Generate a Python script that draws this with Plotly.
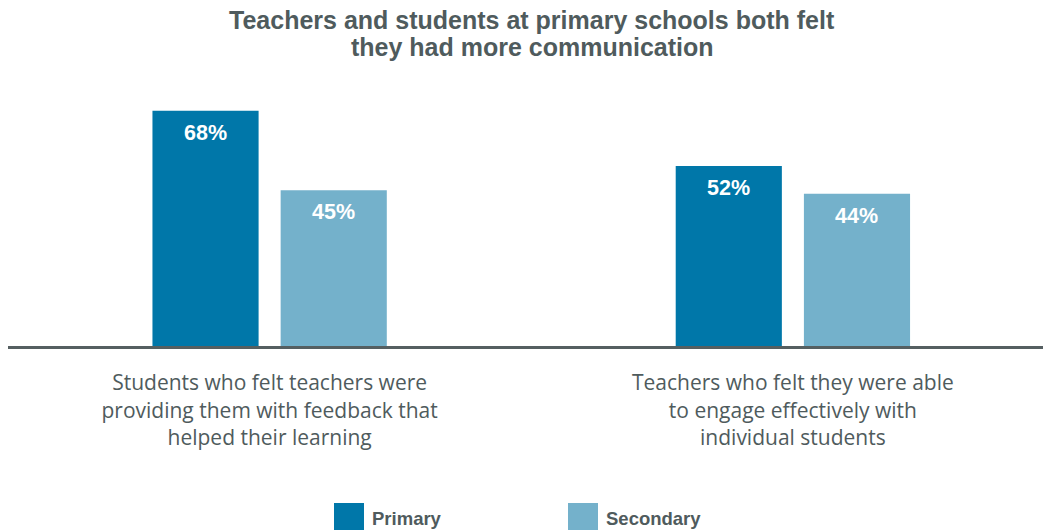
import plotly.graph_objects as go

categories = [
    "Students who felt teachers were<br>providing them with feedback that<br>helped their learning",
    "Teachers who felt they were able<br>to engage effectively with<br>individual students",
]
series_names = ["Primary", "Secondary"]
primary_values = [68, 52]
secondary_values = [45, 44]
title_lines = [
    "Teachers and students at primary schools both felt",
    "they had more communication",
]

colors = {"Primary": "#0077A9", "Secondary": "#74B1CB"}
text_grey = "#4F5B5D"
label_font = "'Open Sans', 'Liberation Sans', Arial, sans-serif"
bold_font = "'Liberation Sans', Arial, sans-serif"

# Plot area geometry (pixels) used to place paper-referenced decorations
PLOT_LEFT, PLOT_WIDTH = 8, 1035
PLOT_TOP, PLOT_BOTTOM = 90, 346
PLOT_HEIGHT = PLOT_BOTTOM - PLOT_TOP


def px_to_paper_x(px):
    return (px - PLOT_LEFT) / PLOT_WIDTH


def px_to_paper_y(py):
    return (PLOT_BOTTOM - py) / PLOT_HEIGHT


fig = go.Figure()
for name, values in zip(series_names, [primary_values, secondary_values]):
    fig.add_trace(go.Bar(
        x=categories,
        y=values,
        name=name,
        marker=dict(color=colors[name], line=dict(width=0)),
        showlegend=False,
        hoverinfo="skip",
    ))

# Value labels placed just below each bar top
bar_shift = {"Primary": -64, "Secondary": 64}
for name, values in zip(series_names, [primary_values, secondary_values]):
    for cat, v in zip(categories, values):
        fig.add_annotation(
            x=cat, y=v, xref="x", yref="y",
            text=f"<b>{v}%</b>", showarrow=False,
            xshift=bar_shift[name], yshift=-22,
            xanchor="center", yanchor="middle",
            font=dict(size=21.5, color="white", family=bold_font),
        )

# Legend drawn as swatches and labels beneath the chart
legend_x = [334, 568]
for name, lx in zip(series_names, legend_x):
    fig.add_shape(
        type="rect", xref="paper", yref="paper",
        x0=px_to_paper_x(lx), x1=px_to_paper_x(lx + 30),
        y0=px_to_paper_y(531), y1=px_to_paper_y(503),
        fillcolor=colors[name], line=dict(width=0),
    )
    fig.add_annotation(
        xref="paper", yref="paper",
        x=px_to_paper_x(lx + 36), y=px_to_paper_y(518),
        text=f"<b>{name}</b>", showarrow=False,
        xanchor="left", yanchor="middle",
        font=dict(size=18.5, color=text_grey, family=bold_font),
    )

# Chart title, one annotation per line for tight leading
for line, cy in zip(title_lines, [20, 47]):
    fig.add_annotation(
        xref="paper", yref="paper",
        x=px_to_paper_x(532), y=px_to_paper_y(cy),
        text=f"<b>{line}</b>",
        showarrow=False, xanchor="center", yanchor="middle",
        font=dict(size=25, color=text_grey, family=bold_font),
    )

fig.update_layout(
    width=1043,
    height=530,
    margin=dict(l=PLOT_LEFT, r=0, t=PLOT_TOP, b=530 - PLOT_BOTTOM),
    paper_bgcolor="white",
    plot_bgcolor="white",
    barmode="group",
    bargap=0.51,
    bargroupgap=0.172,
    xaxis=dict(
        range=[-0.5, 1.478],
        showgrid=False,
        showline=True,
        linecolor="#555F61",
        linewidth=3,
        ticks="",
        tickfont=dict(size=21, color=text_grey, family=label_font),
        ticklabelstandoff=16,
    ),
    yaxis=dict(
        range=[0, 74],
        visible=False,
        showgrid=False,
        zeroline=False,
    ),
    showlegend=False,
)

fig.write_html("out.html")
